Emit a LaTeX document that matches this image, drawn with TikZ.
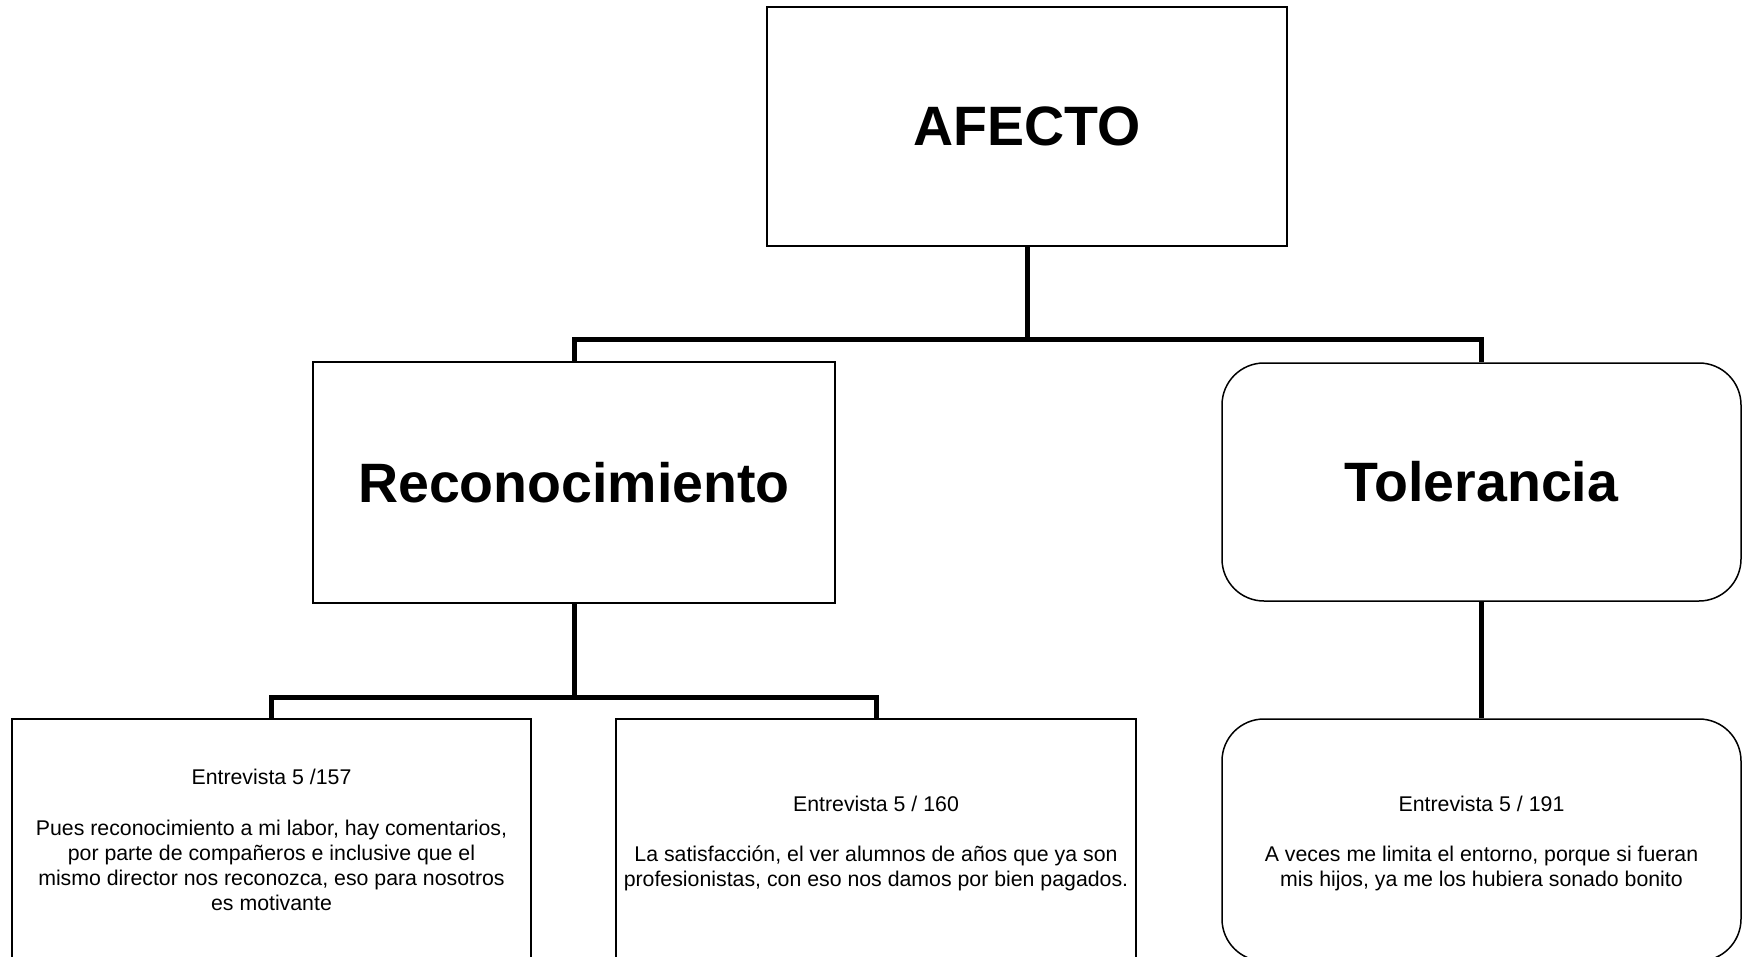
\documentclass[tikz,border=0pt]{standalone}
\usepackage{fontspec}
\setmainfont{Liberation Sans}
\begin{document}
\begin{tikzpicture}[x=1pt,y=-1pt,
  bigbox/.style={draw=black, line width=1.5pt, minimum width=520pt, minimum height=240pt, inner sep=0pt,
    font=\fontsize{55.5}{62}\selectfont\bfseries, align=center},
  smallbox/.style={draw=black, line width=1.5pt, minimum width=519pt, minimum height=242pt, inner sep=0pt,
    font=\fontsize{21.3}{25.2}\selectfont, align=center},
  roundbox/.style={rounded corners=42pt},
  conn/.style={draw=black, line width=5pt}]
\useasboundingbox (0,0) rectangle (1743,956);
\fill[white] (0,0) rectangle (1743,956);

\node[bigbox, minimum height=239pt] (afecto) at (1027,126.5) {AFECTO};
\node[bigbox, minimum width=522pt, minimum height=241pt] (rec) at (574,482.5) {Reconocimiento};
\node[bigbox, roundbox, minimum width=519pt, minimum height=238pt] (tol) at (1481.5,482) {Tolerancia};

\node[smallbox] (b1) at (271.5,840) {Entrevista 5 /157\\[25.2pt]
Pues reconocimiento a mi labor, hay comentarios,\\
por parte de compañeros e inclusive que el\\
mismo director nos reconozca, eso para nosotros\\
es motivante};
\node[smallbox, minimum width=520pt] (b2) at (876,840) {\rule{0pt}{22.5pt}Entrevista 5 / 160\\[25.2pt]
La satisfacción, el ver alumnos de años que ya son\\
profesionistas, con eso nos damos por bien pagados.};
\node[smallbox, roundbox] (b3) at (1481.5,840) {\rule{0pt}{22.5pt}Entrevista 5 / 191\\[25.2pt]
A veces me limita el entorno, porque si fueran\\
mis hijos, ya me los hubiera sonado bonito};

\coordinate (j1) at (1027,339);
\coordinate (j2) at (574,697);

\draw[conn] (afecto.south) -- (j1);
\draw[conn] (rec.north) |- (j1) -| (tol.north);
\draw[conn] (rec.south) -- (j2);
\draw[conn] (b1.north) |- (j2) -| (b2.north);
\draw[conn] (tol.south) -- (b3.north);
\end{tikzpicture}
\end{document}
